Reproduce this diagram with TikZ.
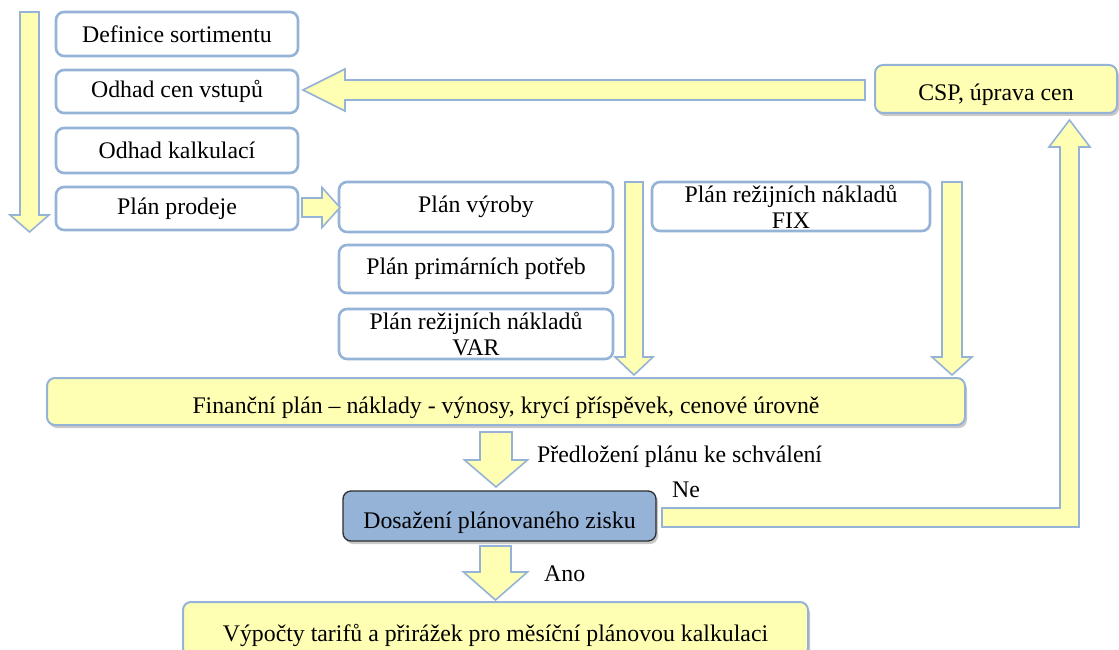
\documentclass[tikz,border=0pt]{standalone}
\usepackage{fontspec}
\setmainfont{Liberation Serif}
\usetikzlibrary{shadows}

\definecolor{fillyellow}{RGB}{255,255,179}
\definecolor{edgeblue}{RGB}{149,179,215}
\definecolor{darkedge}{RGB}{45,45,45}

\tikzset{
  txt/.style={font=\rmfamily\fontsize{23.8}{26}\selectfont, text=black},
  lowtext/.style={text height=25pt, text depth=1pt},
  boxshadow/.style={drop shadow={shadow xshift=2pt, shadow yshift=-3pt, opacity=0.3, fill=black!70}},
  plainbox/.style={txt, draw=edgeblue, line width=2.6pt, fill=white, rounded corners=8pt,
    inner sep=0pt, align=center},
  yellowbox/.style={txt, lowtext, draw=edgeblue, line width=2pt, fill=fillyellow, rounded corners=8pt,
    inner sep=0pt, align=center, boxshadow},
  bluebox/.style={txt, lowtext, draw=darkedge, line width=1.3pt, fill=edgeblue, rounded corners=8pt,
    inner sep=0pt, align=center, boxshadow},
  blockarrow/.style={draw=edgeblue, line width=1.6pt, fill=fillyellow, line join=miter},
  lbl/.style={txt, inner sep=0pt, anchor=west},
}

% vertical block arrow: centre x, top y, shaft half-width, head half-width, head base y, tip y
\newcommand\arrdown[6]{%
  \draw[blockarrow] ({#1-#3},{#2}) -- ({#1+#3},{#2}) -- ({#1+#3},{#5}) -- ({#1+#4},{#5})
    -- ({#1},{#6}) -- ({#1-#4},{#5}) -- ({#1-#3},{#5}) -- cycle;}
% horizontal block arrow: centre y, tail x, shaft half-height, head half-height, head base x, tip x
\newcommand\arrhoriz[6]{%
  \draw[blockarrow] ({#2},{#1-#3}) -- ({#5},{#1-#3}) -- ({#5},{#1-#4}) -- ({#6},{#1})
    -- ({#5},{#1+#4}) -- ({#5},{#1+#3}) -- ({#2},{#1+#3}) -- cycle;}

\begin{document}
\begin{tikzpicture}[x=1pt,y=-1pt]
\useasboundingbox (0,0) rectangle (1119,650);

% left column
\node[plainbox, minimum width=242pt, minimum height=44pt] (def)   at (177,34)    {Definice sortimentu};
\node[plainbox, minimum width=242pt, minimum height=43pt] (cena)  at (177,91.5)  {Odhad cen vstupů};
\node[plainbox, minimum width=242pt, minimum height=45pt] (kalk)  at (177,150.5) {Odhad kalkulací};
\node[plainbox, minimum width=242pt, minimum height=43pt] (prod)  at (177,208.5) {Plán prodeje};

% middle column
\node[plainbox, minimum width=274pt, minimum height=50pt] (vyr)   at (476,207)   {Plán výroby};
\node[plainbox, minimum width=274pt, minimum height=48pt] (prim)  at (476,269)   {Plán primárních potřeb};
\node[plainbox, minimum width=274pt, minimum height=50pt] (var)   at (476,334)   {Plán režijních nákladů\\VAR};
\node[plainbox, minimum width=278pt, minimum height=49pt] (fix)   at (791,206.5) {Plán režijních nákladů\\FIX};

% price correction
\node[yellowbox, minimum width=242pt, minimum height=48pt] (csp)  at (996,89)    {CSP, úprava cen};

% financial plan, decision, result
\node[yellowbox, minimum width=918pt, minimum height=47pt] (fin)  at (506,401.5)
  {Finanční plán – náklady - výnosy, krycí příspěvek, cenové úrovně};
\node[bluebox, minimum width=313pt, minimum height=50pt] (dos)    at (499.5,516) {Dosažení plánovaného zisku};
\node[yellowbox, minimum width=625pt, minimum height=54pt] (vyp)  at (495.5,629)
  {Výpočty tarifů a přirážek pro měsíční plánovou kalkulaci};

% block arrows
\arrdown{29.5}{12}{9.5}{19.5}{215}{232}
\arrhoriz{207.5}{302}{9.5}{20}{322}{340}
\arrhoriz{90}{865}{10}{21}{345}{303}
\arrdown{634}{182}{9}{19}{357}{375}
\arrdown{952}{182}{10}{20}{357}{375}
\arrdown{496}{432}{16}{31.5}{460}{487}
\arrdown{495.5}{546}{15.5}{32}{572}{600}

% return path from the decision back to price correction
\draw[blockarrow] (662,508) -- (1060,508) -- (1060,147) -- (1049,147) -- (1069.5,120)
  -- (1090,147) -- (1079,147) -- (1079,527) -- (662,527) -- cycle;

% labels
\node[lbl] (lsub) at (537,457) {Předložení plánu ke schválení};
\node[lbl] (lne)  at (672,490) {Ne};
\node[lbl] (lano) at (544,574) {Ano};
\end{tikzpicture}
\end{document}
